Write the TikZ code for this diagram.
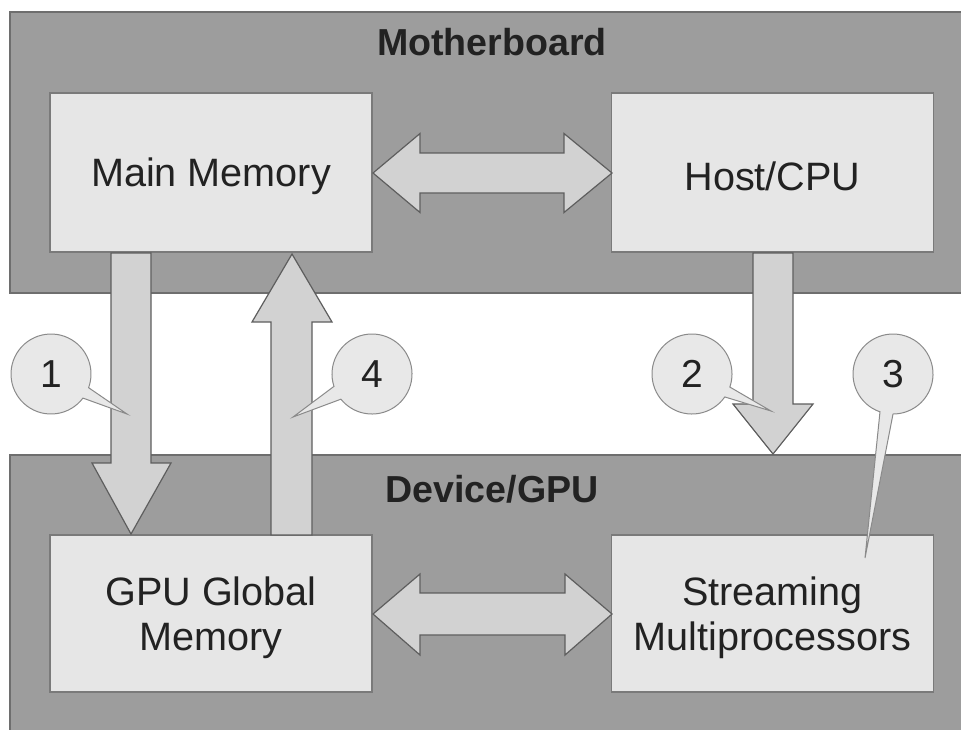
\documentclass[tikz,border=0pt]{standalone}
\usepackage{fontspec}
\setmainfont{Liberation Sans}
\definecolor{panelgray}{HTML}{9D9D9D}
\definecolor{paneledge}{HTML}{6E6E6E}
\definecolor{boxfill}{HTML}{E6E6E6}
\definecolor{boxedge}{HTML}{7A7A7A}
\definecolor{arrowfill}{HTML}{D2D2D2}
\definecolor{arrowedge}{HTML}{5E5E5E}
\definecolor{calloutfill}{HTML}{E8E8E8}
\definecolor{calloutedge}{HTML}{8A8A8A}
\definecolor{ink}{HTML}{222222}
\begin{document}
\begin{tikzpicture}[x=0.5pt,y=-0.5pt,
  panel/.style={fill=panelgray,draw=paneledge,line width=1pt},
  unit/.style={rectangle,fill=boxfill,draw=boxedge,line width=0.8pt,
    minimum width=161pt,inner sep=0pt},
  unittext/.style={align=center,text=ink,yshift=-2pt,
    font=\fontsize{19.8}{22.5}\selectfont},
  title/.style={text=ink,font=\fontsize{18.8}{22}\selectfont\bfseries},
  blockarrow/.style={fill=arrowfill,draw=arrowedge,line width=0.6pt,line join=miter},
  callout/.style={fill=calloutfill,draw=calloutedge,line width=0.5pt},
  num/.style={text=ink,font=\fontsize{19.5}{22.5}\selectfont}]
\useasboundingbox (0,0) rectangle (961,729);
\clip (0,0) rectangle (961,729);

% the two boards
\draw[panel] (10,12) rectangle (975,293);
\draw[panel] (10,455) rectangle (975,745);
\node[title] (mb) at (492,42) {Motherboard};
\node[title] (dev) at (492,489) {Device/GPU};

% component boxes
\node[unit,minimum height=79.5pt,label={[unittext]center:Main Memory}] (mm) at (211,172.5) {};
\node[unit,minimum height=79.5pt,label={[unittext]center:Host/CPU}] (cpu) at (772.5,172.5) {};
\node[unit,minimum height=78.5pt,label={[unittext]center:{GPU Global\\Memory}}] (gmem) at (211,613.5) {};
\node[unit,minimum height=78.5pt,label={[unittext]center:{Streaming\\Multiprocessors}}] (sm) at (772.5,613.5) {};

% two-way links inside each board
\draw[blockarrow] (373,173) -- (420,133.5) -- (420,153) -- (564,153) -- (564,133.5)
  -- (612,173) -- (564,212.5) -- (564,193) -- (420,193) -- (420,212.5) -- cycle;
\draw[blockarrow] (373,614) -- (420,574) -- (420,593) -- (565,593) -- (565,574)
  -- (612,614) -- (565,655) -- (565,635) -- (420,635) -- (420,655) -- cycle;

% 1: main memory to GPU memory
\draw[blockarrow] (111,253) -- (151,253) -- (151,463) -- (171,463) -- (131,534)
  -- (92,463) -- (111,463) -- cycle;
% 4: GPU memory back to main memory
\draw[blockarrow] (271,535) -- (271,322) -- (252,322) -- (292,254) -- (332,322)
  -- (312,322) -- (312,535) -- cycle;
% 2: host to device
\draw[blockarrow] (753,253) -- (793,253) -- (793,404) -- (813,404) -- (773,454)
  -- (733,404) -- (753,404) -- cycle;

% numbered callouts
\draw[callout] (51,374) ++(37:40) arc[start angle=37,end angle=380,radius=40]
  -- (127,414) -- cycle;
\node[num] (c1) at (51,374) {1};
\draw[callout] (372,374) ++(162:40) arc[start angle=162,end angle=501,radius=40]
  -- (293,417) -- cycle;
\node[num] (c4) at (372,374) {4};
\draw[callout] (692,374) ++(35:40) arc[start angle=35,end angle=379,radius=40]
  -- (771,411) -- cycle;
\node[num] (c2) at (692,374) {2};
\draw[callout] (893,374) ++(109:40) arc[start angle=109,end angle=450,radius=40]
  -- (865,558) -- cycle;
\node[num] (c3) at (893,374) {3};
\end{tikzpicture}
\end{document}
